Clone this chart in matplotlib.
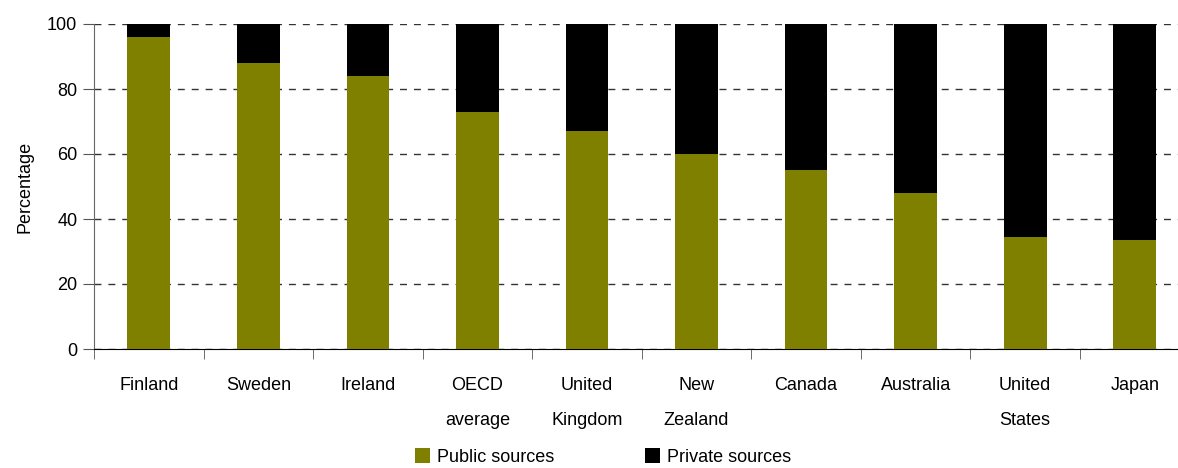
import numpy as np
import matplotlib
matplotlib.use("Agg")
import matplotlib.pyplot as plt
from matplotlib.patches import Patch

plt.rcParams['font.family'] = ['Liberation Sans', 'DejaVu Sans']
plt.rcParams['font.size'] = 13

countries = ["Finland", "Sweden", "Ireland", "OECD\naverage", "United\nKingdom",
             "New\nZealand", "Canada", "Australia", "United\nStates", "Japan"]
public = [96, 88, 84, 73, 67, 60, 55, 48, 34.5, 33.5]
private = [100 - p for p in public]

green = "#808000"

fig = plt.figure(figsize=(11.78, 4.68), dpi=100)
# axes runs slightly past the right edge of the figure
ax = fig.add_axes([94 / 1178, 1 - 349 / 468, (1189.5 - 94) / 1178, (349 - 24) / 468])

x = np.arange(len(countries))
ax.bar(x, public, width=0.39, color=green, zorder=3)
ax.bar(x, private, width=0.39, bottom=public, color="black", zorder=3)

ax.set_xlim(-0.5, len(countries) - 0.5)
ax.set_ylim(0, 100)
ax.set_yticks(range(0, 101, 20))
ax.yaxis.grid(True, linestyle=(0, (5, 5)), color="#333333", linewidth=1, zorder=0)

ax.set_xticks(x)
ax.set_xticklabels(countries, linespacing=2.4)
ax.set_xticks(np.arange(-0.5, len(countries), 1), minor=True)
ax.tick_params(axis="x", which="major", length=0, pad=20)
ax.tick_params(axis="x", which="minor", length=7, color="#555555", direction="out")
ax.tick_params(axis="y", length=8, color="#555555", pad=4)

for side in ("top", "right"):
    ax.spines[side].set_visible(False)
ax.spines["left"].set_color("#666666")
ax.spines["bottom"].set_color("black")

ax.set_ylabel("Percentage", labelpad=10)

handles = [Patch(facecolor=green, label="Public sources"),
           Patch(facecolor="black", label="Private sources")]
fig.legend(handles=handles, loc="lower center", ncol=2, frameon=False,
           bbox_to_anchor=(603 / 1178, -0.03), handlelength=0.85, handleheight=0.85,
           handletextpad=0.4, columnspacing=5.0)

fig.savefig("out.png", dpi=100)
